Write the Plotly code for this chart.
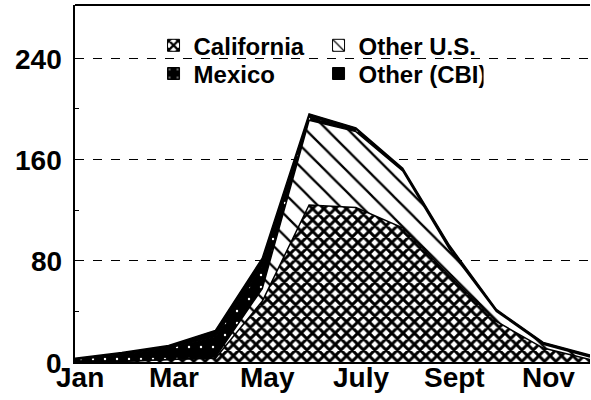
import plotly.graph_objects as go

# ---------------- data ----------------
months = ["Jan", "Feb", "Mar", "Apr", "May", "Jun", "Jul", "Aug", "Sep", "Oct", "Nov", "Dec"]
california = [0, 0.5, 2, 3, 48, 124, 122, 106, 68, 32, 11, 2]
other_us = [0, 0, 0, 1, 10, 67, 60, 45, 21, 8, 3, 2]
mexico = [2, 5, 9, 16, 17, 3, 2, 1, 2, 1, 1, 1]
other_cbi = [1, 2, 2, 5, 7, 2, 1, 1, 1, 0.5, 0.5, 0.5]

tick_months = ["Jan", "Mar", "May", "Jul", "Sep", "Nov"]
tick_text = ["Jan", "Mar", "May", "July", "Sept", "Nov"]
y_ticks = [0, 80, 160, 240]
y_minor = [40, 120, 200]

FONT = "Liberation Sans"

patterns = {
    "California": dict(shape="x", fgcolor="black", bgcolor="white", size=8, solidity=0.6, fgopacity=1),
    "Other U.S.": dict(shape="\\", fgcolor="black", bgcolor="white", size=15, solidity=0.15, fgopacity=1),
    "Mexico": dict(shape=".", fgcolor="white", bgcolor="black", size=12, solidity=0.03, fgopacity=1),
    "Other (CBI)": None,
}
series = [
    ("California", california, "legend"),
    ("Other U.S.", other_us, "legend"),
    ("Mexico", mexico, "legend2"),
    ("Other (CBI)", other_cbi, "legend2"),
]

fig = go.Figure()
for name, vals, _lg in series:
    pat = patterns[name]
    kw = dict(
        x=months, y=vals, name=name, stackgroup="one", mode="lines",
        line=dict(color="black", width=1.5), showlegend=False, hoverinfo="skip",
    )
    if pat is None:
        kw["fillcolor"] = "black"
    else:
        kw["fillcolor"] = pat["bgcolor"]
        kw["fillpattern"] = pat
    fig.add_trace(go.Scatter(**kw))

# legend swatches
for name, vals, lg in series:
    pat = patterns[name]
    marker = dict(color="black" if pat is None else pat["bgcolor"], line=dict(color="black", width=1))
    if pat is not None:
        marker["pattern"] = pat
    fig.add_trace(go.Bar(x=[None], y=[None], name=name, marker=marker, legend=lg, showlegend=True))

legend_font = dict(family=FONT, size=24, color="black", weight="bold")
common_leg = dict(orientation="h", xanchor="left", yanchor="middle", entrywidth=120,
                  entrywidthmode="pixels", font=legend_font, bgcolor="rgba(0,0,0,0)",
                  borderwidth=0, tracegroupgap=0, traceorder="normal")

tick_font = dict(family=FONT, size=28, weight="bold", color="black")
annotations = [
    dict(x=m, y=0, xref="x", yref="paper", text=t, showarrow=False,
         xanchor="center", yanchor="top", xshift=5, yshift=2, font=tick_font)
    for m, t in zip(tick_months, tick_text)
] + [
    dict(x=0, y=v, xref="paper", yref="y", text=str(v), showarrow=False,
         xanchor="right", yanchor="middle", xshift=-11, yshift=-1, font=tick_font)
    for v in y_ticks
]

fig.update_layout(
    width=591, height=400,
    margin=dict(l=75, r=1, t=5, b=38, autoexpand=False),
    plot_bgcolor="white", paper_bgcolor="white",
    font=dict(family=FONT, color="black"),
    legend=dict(x=0.1525, y=0.886, **common_leg),
    legend2=dict(x=0.1525, y=0.807, **common_leg),
    xaxis=dict(
        type="category", categoryorder="array", categoryarray=months,
        range=[0, 11], showline=True, linecolor="black", linewidth=2,
        showticklabels=False, ticks="", showgrid=False, automargin=False,
    ),
    yaxis=dict(
        range=[0, 282], tickvals=y_ticks, showgrid=True, gridcolor="black",
        griddash="dash", gridwidth=1, showline=True, linecolor="black", linewidth=2,
        ticks="inside", ticklen=6, tickcolor="black", zeroline=False, automargin=False,
        minor=dict(tickvals=y_minor, ticks="inside", ticklen=4, tickcolor="black", showgrid=False),
        showticklabels=False,
    ),
    annotations=annotations,
    shapes=[dict(type="line", xref="paper", yref="paper", x0=0, x1=1, y0=1, y1=1,
                 line=dict(color="black", width=2))],
)

fig.write_html(
    "out.html",
    config={"displayModeBar": False},
    post_script="document.body.style.margin='0';document.body.style.overflow='hidden';",
)
